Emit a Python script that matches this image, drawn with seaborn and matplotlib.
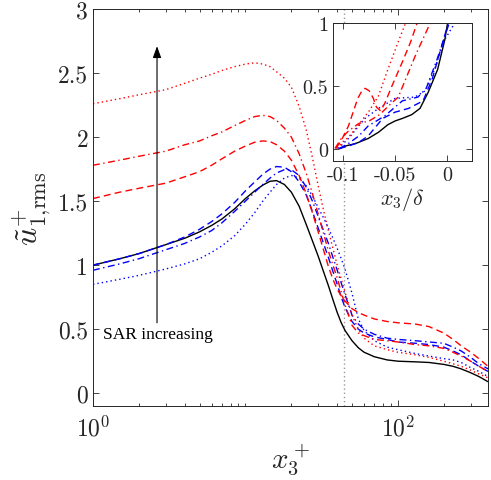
import numpy as np
import pandas as pd
import seaborn as sns
import matplotlib.pyplot as plt
from matplotlib.ticker import FixedLocator, NullFormatter

sns.set_style('ticks')
plt.rcParams['font.family'] = ['cmr10', 'DejaVu Serif']
plt.rcParams['mathtext.fontset'] = 'cm'
plt.rcParams['axes.unicode_minus'] = False
plt.rcParams['axes.formatter.use_mathtext'] = True

# main plot data, x3+ (log axis)
xp = [1, 1.5, 2, 3, 4, 5, 6, 7, 8.5, 10, 11.5, 13, 14.5, 16, 18, 20, 22.5, 25, 27.5, 30,
      32.5, 35, 37.5, 40, 42.5, 45, 50, 55, 60, 70, 85, 100, 130, 160, 200, 230, 260, 300,
      340, 390]
u_black = [1.00, 1.05, 1.09, 1.16, 1.21, 1.26, 1.31, 1.36, 1.44, 1.52, 1.58, 1.625, 1.655,
           1.66, 1.63, 1.57, 1.46, 1.32, 1.19, 1.07, 0.95, 0.84, 0.73, 0.63, 0.55, 0.49,
           0.41, 0.355, 0.32, 0.285, 0.26, 0.25, 0.245, 0.24, 0.225, 0.21, 0.19, 0.16,
           0.13, 0.09]
u_blue_dash = [1.00, 1.05, 1.09, 1.16, 1.22, 1.28, 1.34, 1.40, 1.49, 1.58, 1.65, 1.71, 1.75,
               1.77, 1.765, 1.73, 1.65, 1.55, 1.42, 1.29, 1.17, 1.06, 0.95, 0.85, 0.75,
               0.67, 0.56, 0.50, 0.47, 0.44, 0.42, 0.40, 0.39, 0.38, 0.36, 0.33, 0.30,
               0.25, 0.21, 0.17]
u_blue_dashdot = [0.96, 1.01, 1.05, 1.12, 1.17, 1.22, 1.27, 1.33, 1.42, 1.50, 1.57, 1.63,
                  1.68, 1.72, 1.745, 1.745, 1.70, 1.61, 1.50, 1.38, 1.27, 1.17, 1.06, 0.96,
                  0.86, 0.77, 0.61, 0.54, 0.50, 0.46, 0.43, 0.42, 0.41, 0.40, 0.39, 0.36,
                  0.33, 0.28, 0.23, 0.19]
u_blue_dot = [0.85, 0.89, 0.92, 0.97, 1.01, 1.05, 1.10, 1.15, 1.23, 1.32, 1.41, 1.50, 1.57,
              1.63, 1.68, 1.70, 1.68, 1.62, 1.54, 1.45, 1.37, 1.29, 1.21, 1.13, 1.05, 0.97,
              0.78, 0.58, 0.49, 0.41, 0.36, 0.34, 0.31, 0.29, 0.27, 0.26, 0.24, 0.20,
              0.17, 0.13]
u_red_dash = [1.52, 1.57, 1.60, 1.64, 1.69, 1.73, 1.78, 1.83, 1.89, 1.93, 1.96, 1.97, 1.965,
              1.94, 1.89, 1.82, 1.70, 1.56, 1.41, 1.26, 1.12, 0.99, 0.89, 0.81, 0.76, 0.72,
              0.66, 0.63, 0.61, 0.58, 0.56, 0.55, 0.54, 0.52, 0.47, 0.42, 0.37, 0.32,
              0.27, 0.21]
u_red_dashdot = [1.78, 1.82, 1.85, 1.89, 1.94, 1.97, 2.01, 2.04, 2.09, 2.13, 2.16, 2.17,
                 2.16, 2.13, 2.07, 2.00, 1.87, 1.72, 1.56, 1.40, 1.25, 1.11, 1.00, 0.90,
                 0.79, 0.69, 0.53, 0.47, 0.45, 0.42, 0.41, 0.40, 0.38, 0.37, 0.35, 0.32,
                 0.29, 0.25, 0.21, 0.17]
u_red_dot = [2.26, 2.30, 2.33, 2.37, 2.42, 2.46, 2.49, 2.52, 2.55, 2.57, 2.58, 2.57, 2.55,
             2.51, 2.46, 2.39, 2.24, 2.06, 1.84, 1.62, 1.43, 1.27, 1.13, 1.00, 0.89, 0.79,
             0.61, 0.50, 0.43, 0.37, 0.34, 0.32, 0.30, 0.28, 0.25, 0.23, 0.21, 0.18,
             0.15, 0.12]

# inset data, x3/delta
ix_black = [-0.103, -0.098, -0.088, -0.076, -0.066, -0.057, -0.050, -0.043, -0.034, -0.026, -0.018, -0.009, -0.002, 0.001]
iy_black = [0, 0.02, 0.04, 0.08, 0.13, 0.19, 0.22, 0.24, 0.27, 0.32, 0.45, 0.63, 0.87, 1.02]
ix_blue_dash = [-0.104, -0.095, -0.085, -0.076, -0.062, -0.050, -0.037, -0.023, -0.014, -0.005, 0.002]
iy_blue_dash = [0, 0.02, 0.05, 0.10, 0.24, 0.29, 0.32, 0.38, 0.56, 0.82, 1.02]
ix_blue_dashdot = [-0.104, -0.095, -0.085, -0.076, -0.060, -0.043, -0.028, -0.020, -0.010, 0.003]
iy_blue_dashdot = [0, 0.04, 0.10, 0.18, 0.26, 0.38, 0.41, 0.48, 0.70, 1.02]
ix_blue_dot = [-0.105, -0.095, -0.088, -0.079, -0.066, -0.050, -0.031, -0.021, -0.012, -0.002, 0.009]
iy_blue_dot = [0, 0.08, 0.15, 0.24, 0.32, 0.40, 0.41, 0.46, 0.63, 0.87, 1.02]
ix_red_dash = [-0.107, -0.101, -0.095, -0.086, -0.082, -0.079, -0.075, -0.071, -0.068, -0.064, -0.060, -0.053, -0.043, -0.035, -0.028]
iy_red_dash = [0, 0.08, 0.18, 0.40, 0.46, 0.48, 0.46, 0.40, 0.33, 0.30, 0.36, 0.50, 0.69, 0.85, 1.02]
ix_red_dashdot = [-0.108, -0.102, -0.095, -0.085, -0.075, -0.065, -0.055, -0.047, -0.040, -0.030, -0.015]
iy_red_dashdot = [0, 0.08, 0.14, 0.20, 0.22, 0.27, 0.35, 0.41, 0.55, 0.75, 1.02]
ix_red_dot = [-0.106, -0.101, -0.095, -0.088, -0.075, -0.066, -0.057, -0.047, -0.039]
iy_red_dot = [0, 0.05, 0.09, 0.16, 0.30, 0.42, 0.63, 0.85, 1.02]

DASH = (5, 3)
DASHDOT = (5, 2.5, 1, 2.5)
DOT = (1, 2.2)

main_series = [
    (u_black, 'k', None),
    (u_blue_dash, 'b', DASH),
    (u_blue_dashdot, 'b', DASHDOT),
    (u_blue_dot, 'b', DOT),
    (u_red_dash, 'r', DASH),
    (u_red_dashdot, 'r', DASHDOT),
    (u_red_dot, 'r', DOT),
]
inset_series = [
    (ix_black, iy_black, 'k', None),
    (ix_blue_dash, iy_blue_dash, 'b', DASH),
    (ix_blue_dashdot, iy_blue_dashdot, 'b', DASHDOT),
    (ix_blue_dot, iy_blue_dot, 'b', DOT),
    (ix_red_dash, iy_red_dash, 'r', DASH),
    (ix_red_dashdot, iy_red_dashdot, 'r', DASHDOT),
    (ix_red_dot, iy_red_dot, 'r', DOT),
]


def style_axes(ax, size):
    for s in ax.spines.values():
        s.set_visible(True)
        s.set_color('0.15')
        s.set_linewidth(0.7)
    ax.tick_params(which='both', direction='in', top=True, right=True,
                   colors='0.15', labelcolor='0.15', labelsize=size, width=0.6)
    ax.tick_params(which='major', length=4)
    ax.tick_params(which='minor', length=2.5)


fig = plt.figure(figsize=(4.91, 4.81), dpi=100)
ax = fig.add_axes([0.1894, 0.1538, 0.8045, 0.8254])

for yv, c, d in main_series:
    sns.lineplot(x=xp, y=yv, color=c, lw=1.0, ax=ax, estimator=None, sort=False)
    if d is not None:
        ax.lines[-1].set_dashes(d)

ax.axvline(44, color='0.6', ls=(0, (1, 2)), lw=1.0, zorder=0)
ax.annotate('', xy=(2.63, 2.71), xytext=(2.63, 0.55),
            arrowprops=dict(arrowstyle='-|>,head_length=0.5,head_width=0.18', color='k',
                            lw=0.8, mutation_scale=14, shrinkA=0, shrinkB=0))
ax.text(1.16, 0.46, 'SAR increasing', fontsize=12.5, family='Liberation Serif',
        ha='left', va='center', color='k')

ax.set_xscale('log')
ax.set_xlim(1, 390)
ax.set_ylim(-0.1, 3)
ax.xaxis.set_major_locator(FixedLocator([1, 100]))
ax.set_xticklabels([r'$10^0$', r'$10^2$'])
ax.xaxis.set_minor_locator(FixedLocator([2, 3, 4, 5, 6, 7, 8, 9, 10, 20, 30, 40, 50, 60, 70, 80, 90, 200, 300]))
ax.xaxis.set_minor_formatter(NullFormatter())
yt = [0, 0.5, 1, 1.5, 2, 2.5, 3]
ax.set_yticks(yt)
ax.set_yticklabels(['0', '0.5', '1', '1.5', '2', '2.5', '3'])
style_axes(ax, 17)
ax.tick_params(axis='x', pad=7)
ax.set_xlabel(r'$x_3^+$', fontsize=21, labelpad=0)
ax.set_ylabel(r'$\tilde{u}^{+}_{1{,}\mathrm{rms}}$', fontsize=23, labelpad=4)

axin = fig.add_axes([0.678, 0.663, 0.283, 0.287])
axin.set_facecolor('white')
for xs, ys, c, d in inset_series:
    sns.lineplot(x=xs, y=ys, color=c, lw=1.0, ax=axin, estimator=None, sort=False)
    if d is not None:
        axin.lines[-1].set_dashes(d)
axin.set_xlim(-0.11, 0.024)
axin.set_ylim(-0.1, 1)
axin.set_xticks([-0.1, -0.05, 0])
axin.set_xticklabels(['-0.1', '-0.05', '0'])
axin.set_yticks([0, 0.5, 1])
axin.set_yticklabels(['0', '0.5', '1'])
style_axes(axin, 14.5)
axin.set_xlabel(r'$x_3/\delta$', fontsize=16, labelpad=1)

fig.savefig('out.png', dpi=100)
